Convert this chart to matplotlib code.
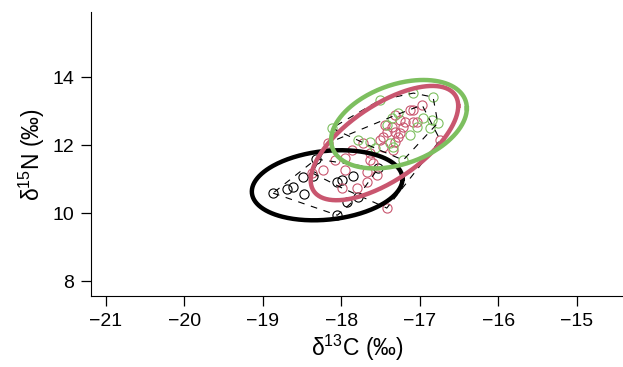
import numpy as np
import matplotlib.pyplot as plt

plt.rcParams['font.family'] = ['Liberation Sans', 'DejaVu Sans']
plt.rcParams['mathtext.fontset'] = 'custom'
plt.rcParams['mathtext.rm'] = 'Liberation Sans'

# 各组同位素数据 (d13C, d15N)
black_x = [-18.87, -18.69, -18.61, -18.47, -18.49, -18.32, -18.36, -18.05,
           -17.99, -17.85, -17.79, -17.93, -18.05, -17.53]
black_y = [10.59, 10.71, 10.76, 10.56, 11.06, 11.59, 11.09, 10.91,
           10.97, 11.09, 10.47, 10.32, 9.94, 11.32]

red_x = [-16.97, -17.12, -17.08, -17.31, -17.19, -17.08, -17.44, -17.35,
         -17.42, -17.31, -17.25, -17.47, -17.31, -17.47, -16.74, -18.17,
         -17.95, -17.63, -17.59, -18.08, -18.23, -17.95, -17.67, -18.37,
         -17.99, -17.67, -17.54, -17.80, -17.42, -17.72, -17.25, -17.03,
         -17.28, -17.34, -17.63, -17.86, -17.51, -17.21]
red_y = [13.18, 13.03, 13.03, 12.88, 12.68, 12.68, 12.59, 12.53,
         12.38, 12.38, 12.35, 12.24, 12.09, 11.94, 12.15, 12.06,
         11.62, 11.76, 11.47, 11.56, 11.26, 11.26, 11.21, 11.18,
         10.74, 10.91, 11.12, 10.74, 10.15, 12.06, 12.74, 12.68,
         12.24, 11.85, 11.56, 11.85, 12.15, 12.53]

green_x = [-17.51, -17.08, -16.83, -18.12, -17.28, -16.96, -16.85, -16.77,
           -17.03, -16.87, -17.42, -17.79, -17.63, -17.57, -17.38, -17.34,
           -17.21, -17.35, -17.12]
green_y = [13.32, 13.53, 13.41, 12.50, 12.94, 12.79, 12.74, 12.65,
           12.53, 12.50, 12.59, 12.15, 12.09, 11.91, 12.06, 11.94,
           11.56, 12.79, 12.29]

# 椭圆参数: 中心, x/y 半宽, 相关系数
black_ell = [-18.18, 10.82, 0.96, 1.03, 0.18]
red_ell = [-17.45, 12.06, 0.94, 1.68, 0.65]
green_ell = [-17.265, 12.615, 0.865, 1.30, 0.36]

RED = '#C9566F'
GREEN = '#7DBF5F'


def hull(xs, ys):
    """凸包 (monotone chain)"""
    pts = sorted(zip(xs, ys))

    def cross(o, a, b):
        return (a[0] - o[0]) * (b[1] - o[1]) - (a[1] - o[1]) * (b[0] - o[0])

    lower, upper = [], []
    for p in pts:
        while len(lower) >= 2 and cross(lower[-2], lower[-1], p) <= 0:
            lower.pop()
        lower.append(p)
    for p in reversed(pts):
        while len(upper) >= 2 and cross(upper[-2], upper[-1], p) <= 0:
            upper.pop()
        upper.append(p)
    h = lower[:-1] + upper[:-1]
    h.append(h[0])
    return [p[0] for p in h], [p[1] for p in h]


def ellipse(params):
    cx, cy, sx, sy, rho = params
    t = np.linspace(0, 2 * np.pi, 300)
    x = cx + sx * np.cos(t)
    y = cy + sy * (rho * np.cos(t) + np.sqrt(1 - rho ** 2) * np.sin(t))
    return x, y


fig = plt.figure(figsize=(6.23, 3.67), dpi=100)
ax = fig.add_axes([0.146, 0.193, 0.854, 0.774])

groups = [(black_x, black_y, black_ell, 'black'),
          (red_x, red_y, red_ell, RED),
          (green_x, green_y, green_ell, GREEN)]

for xs, ys, ell, c in groups:
    ax.plot(xs, ys, 'o', mfc='none', mec=c, ms=6.6, mew=0.8)

for xs, ys, ell, c in groups:
    hx, hy = hull(xs, ys)
    ax.plot(hx, hy, color='black', lw=0.8, dashes=(6, 6))

for xs, ys, ell, c in groups:
    ex, ey = ellipse(ell)
    ax.plot(ex, ey, color=c, lw=3.2)

ax.set_xlim(-21.19, -14.41)
ax.set_ylim(7.56, 15.91)
ax.set_xticks(range(-21, -14))
ax.set_yticks([8, 10, 12, 14])
ax.spines['top'].set_visible(False)
ax.spines['right'].set_visible(False)
ax.tick_params(direction='out', length=7, width=0.9, labelsize=14, pad=5)
ax.set_xlabel('$\\mathregular{δ^{13}}$C (‰)', fontsize=16.5, labelpad=2)
ax.set_ylabel('$\\mathregular{δ^{15}}$N (‰)', fontsize=16.5, labelpad=4)

plt.savefig('out.png', dpi=100)
